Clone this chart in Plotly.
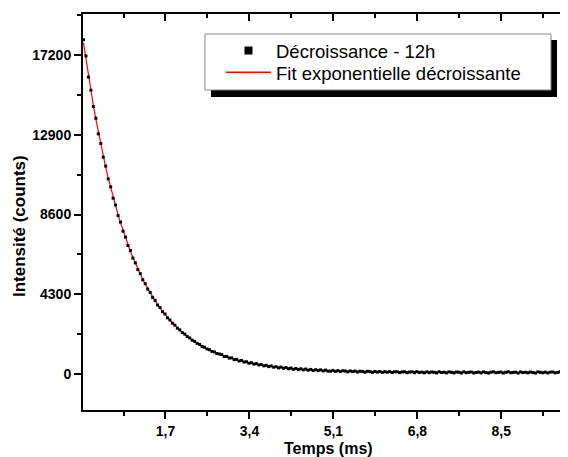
import plotly.graph_objects as go

# acquisition: premier point et pas d'échantillonnage (ms)
t_start = 0.04
t_step = 0.05

intensite = [
    18020, 17150, 16010, 15300, 14420, 13790, 12950, 12430, 11690, 11210,
    10520, 10090, 9480, 9110, 8540, 8190, 7700, 7380, 6930, 6660,
    6250, 5990, 5630, 5410, 5080, 4870, 4580, 4400, 4130, 3970,
    3720, 3580, 3360, 3235, 3030, 2915, 2740, 2635, 2470, 2380,
    2235, 2150, 2020, 1945, 1825, 1760, 1650, 1595, 1490, 1445,
    1350, 1310, 1220, 1190, 1105, 1080, 1045, 940, 950, 860,
    870, 775, 790, 700, 725, 648, 660, 580, 610, 535,
    560, 488, 512, 440, 470, 400, 436, 368, 395, 330,
    372, 308, 345, 285, 320, 255, 298, 240, 281, 222,
    266, 205, 248, 190, 232, 181, 224, 165, 210, 158,
    150, 195, 140, 182, 131, 176, 160, 118, 165, 127,
    158, 104, 152, 139, 96, 147, 128, 91, 140, 102,
    135, 88, 126, 97, 131, 79, 118, 124, 76, 113,
    120, 71, 108, 115, 69, 128, 84, 102, 66, 117,
    74, 111, 93, 58, 122, 80, 99, 63, 114, 90,
    61, 108, 97, 55, 119, 72, 94, 110, 57, 86,
    103, 60, 116, 79, 52, 98, 121, 68, 89, 107,
    54, 95, 118, 71, 86, 102, 49, 113, 77, 96,
    64, 109, 85, 53, 117, 92, 70, 104, 58, 98,
    112, 66, 87, 120, 55, 94, 79, 106,
]

# courbe ajustée (fit exponentielle décroissante), mêmes instants
fit = [
    17850, 16939, 16075, 15255, 14477, 13739, 13039, 12375, 11744, 11146,
    10579, 10041, 9530, 9046, 8586, 8150, 7736, 7344, 6972, 6619,
    6284, 5966, 5664, 5378, 5106, 4848, 4604, 4372, 4152, 3943,
    3745, 3557, 3379, 3210, 3050, 2898, 2754, 2617, 2487, 2364,
    2247, 2136, 2031, 1931, 1836, 1746, 1661, 1580, 1503, 1430,
    1361, 1295, 1233, 1174, 1118, 1065, 1014, 966, 921, 878,
    837, 798, 761, 726, 693, 662, 632, 604, 577, 552,
    528, 505, 483, 462, 442, 423, 405, 388, 372, 357,
    343, 330, 317, 305, 293, 282, 272, 262, 253, 244,
    236, 228, 220, 213, 206, 200, 194, 188, 182, 177,
    172, 167, 163, 159, 155, 151, 147, 144, 141, 138,
    135, 132, 129, 127, 124, 122, 120, 118, 116, 114,
    112, 111, 109, 108, 106, 105, 104, 102, 101, 100,
    99, 98, 97, 96, 95, 95, 94, 93, 92, 92,
    91, 90, 90, 89, 89, 88, 88, 87, 87, 87,
    86, 86, 86, 85, 85, 85, 85, 84, 84, 84,
    84, 84, 83, 83, 83, 83, 83, 83, 82, 82,
    82, 82, 82, 82, 82, 82, 82, 82, 81, 81,
    81, 81, 81, 81, 81, 81, 81, 81, 81, 81,
    81, 81, 81, 81, 81, 81, 81, 81,
]

temps = [round(t_start + i * t_step, 2) for i in range(len(intensite))]

x_ticks = [1.7, 3.4, 5.1, 6.8, 8.5]
x_labels = ["1,7", "3,4", "5,1", "6,8", "8,5"]
y_ticks = [0, 4300, 8600, 12900, 17200]
y_labels = ["0", "4300", "8600", "12900", "17200"]

bold = dict(family="Liberation Sans, Arial", size=14, color="black", weight="bold")
leg_font = dict(family="Liberation Sans, Arial", size=18.5, color="black")

fig = go.Figure()

fig.add_trace(go.Scatter(x=temps, y=fit, mode="lines",
                         line=dict(color="red", width=1.2), showlegend=False))
fig.add_trace(go.Scatter(x=temps, y=intensite, mode="markers",
                         marker=dict(symbol="square", size=3, color="black"),
                         showlegend=False))
# entrées de légende (une légende par ligne pour régler l'interligne)
fig.add_trace(go.Scatter(x=[None], y=[None], mode="markers", name="Décroissance - 12h",
                         marker=dict(symbol="square", size=8, color="black"), legend="legend"))
fig.add_trace(go.Scatter(x=[None], y=[None], mode="lines", name="Fit exponentielle décroissante",
                         line=dict(color="red", width=1.5), legend="legend2"))
# trace fantôme pour activer l'axe du haut
fig.add_trace(go.Scatter(x=[None], y=[None], xaxis="x2", showlegend=False))

# cadre de légende avec ombre portée
fig.add_shape(type="rect", xref="paper", yref="paper", x0=0.2639, x1=0.9773, y0=0.7904, y1=0.9343,
              fillcolor="black", line=dict(width=0), layer="above")
fig.add_shape(type="rect", xref="paper", yref="paper", x0=0.2515, x1=0.9649, y0=0.8081, y1=0.9495,
              fillcolor="white", line=dict(color="#888888", width=1), layer="above")

legend_common = dict(xanchor="left", yanchor="middle", bgcolor="rgba(0,0,0,0)",
                     borderwidth=0, itemwidth=45, font=leg_font)

# la page ajoute 8 px de marge autour de la figure : 560x449 remplit la fenêtre
fig.update_layout(
    width=560, height=449,
    margin=dict(l=75, r=0, t=6, b=47),
    plot_bgcolor="white", paper_bgcolor="white",
    legend=dict(legend_common, x=0.2845, y=0.9066),
    legend2=dict(legend_common, x=0.2845, y=0.8515),
    xaxis=dict(range=[0.03, 9.85], tickmode="array", tickvals=x_ticks, ticktext=x_labels,
               ticks="outside", ticklen=7, tickwidth=2, tickcolor="black",
               minor=dict(tickmode="linear", tick0=0, dtick=0.85, ticks="outside",
                          ticklen=4, tickwidth=2, tickcolor="black"),
               showline=True, linecolor="black", linewidth=2, showgrid=False, zeroline=False,
               tickfont=bold, automargin=False),
    xaxis2=dict(range=[0.03, 9.85], overlaying="x", side="top", tickmode="array", tickvals=x_ticks,
                ticks="inside", ticklen=7, tickwidth=2, tickcolor="black",
                minor=dict(tickmode="linear", tick0=0, dtick=0.85, ticks="inside",
                           ticklen=4, tickwidth=2, tickcolor="black"),
                showticklabels=False, showline=True, linecolor="black", linewidth=2,
                showgrid=False, zeroline=False, automargin=False),
    yaxis=dict(range=[-1940, 19410], tickmode="array", tickvals=y_ticks, ticktext=y_labels,
               ticks="outside", ticklen=7, tickwidth=2, tickcolor="black",
               minor=dict(tickmode="linear", tick0=0, dtick=2150, ticks="outside",
                          ticklen=4, tickwidth=2, tickcolor="black"),
               showline=True, linecolor="black", linewidth=2, showgrid=False, zeroline=False,
               tickfont=bold, automargin=False),
    annotations=[
        dict(text="Temps (ms)", xref="paper", yref="paper", x=0.507, y=-0.096,
             xanchor="center", yanchor="middle", showarrow=False, font=dict(bold, size=16)),
        dict(text="Intensité (counts)", xref="paper", yref="paper", x=-0.132, y=0.4646,
             xanchor="center", yanchor="middle", textangle=-90, showarrow=False,
             font=dict(bold, size=17)),
    ],
)

fig.write_html("out.html")
